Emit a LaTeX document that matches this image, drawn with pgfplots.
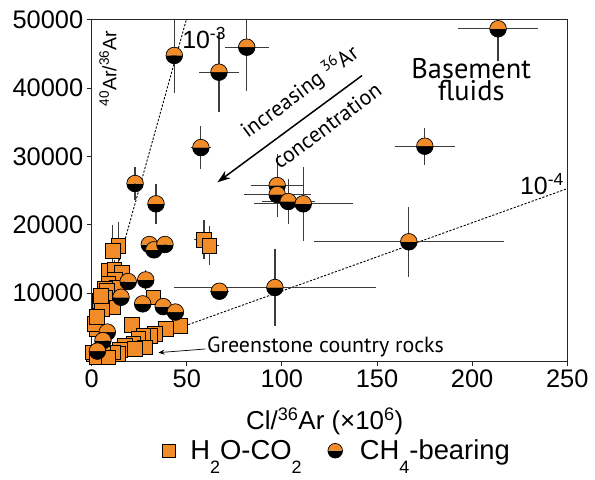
\documentclass[border=0pt]{standalone}
\usepackage{fontspec}
\setmainfont{Liberation Sans}
\newfontfamily\annot{PT Sans}
\usepackage{pgfplots}
\usepackage{pgfplotstable}
\pgfplotsset{compat=1.18}
\usetikzlibrary{arrows.meta}
\definecolor{myorange}{RGB}{242,140,40}
\definecolor{errgray}{RGB}{60,60,60}
\newcommand\lsub[1]{\raisebox{-0.5em}{\fontsize{18}{20}\selectfont #1}}

\pgfdeclareplotmark{halfcirc}{%
  \pgfpathmoveto{\pgfqpoint{-\pgfplotmarksize}{0pt}}%
  \pgfpatharc{180}{360}{\pgfplotmarksize}%
  \pgfpathclose
  \pgfsetfillcolor{black}%
  \pgfusepath{fill}%
  \pgfpathmoveto{\pgfqpoint{\pgfplotmarksize}{0pt}}%
  \pgfpatharc{0}{180}{\pgfplotmarksize}%
  \pgfpathclose
  \pgfsetfillcolor{myorange}%
  \pgfusepath{fill}%
  \pgfpathcircle{\pgfpointorigin}{\pgfplotmarksize}%
  \pgfusepath{stroke}%
}

\pgfplotstableread{
x y ex ey
14.0 16950 1 3400
11.0 16220 1 3800
8.7 13290 0.5 0
11.9 13390 0.5 1500
15.8 13040 0.5 1500
12.2 11970 0 0
8.7 11340 0 0
13.1 10840 0 0
7.0 10610 0 0
7.9 10360 0 0
4.4 8890 0 0
7.0 9380 0 0
11.0 7910 0 0
5.3 7680 0 0
2.6 4750 0 0
1.7 5480 0 0
2.8 6550 0 0
21.0 5330 0 0
32.4 9380 0 0
46.4 5230 0 0
39.0 4750 0 0
33.3 4010 0 0
30.6 3770 0 0
27.1 3770 0 0
24.5 3250 0 0
21.9 2550 0 0
28.0 2050 0 0
17.5 2300 0 0
22.8 1820 0 0
14.9 1670 0 0
14.0 1080 0 0
11.4 1320 0 0
6.1 1080 0 0
0.8 1080 0 0
0.3 1320 0 0
2.6 590 0 0
8.7 590 0 0
4.9 9620 0 0
59.0 17830 5 2800
61.8 16950 5 2800
}\sqdata

\pgfplotstableread{
x y ex ey
213.6 48700 21 4700
175.1 31500 15.8 2700
166.7 17500 50 5100
43.4 44790 1.5 5500
66.9 42340 10.5 5900
81.5 46000 11.6 6400
57.4 31300 5.3 3100
22.8 26030 0 2400
33.8 23060 0 2900
97.5 25740 14 4600
97.5 24420 17.7 3000
103.3 23400 14 3300
111.2 23060 26 5400
30.3 17100 1 600
32.7 16320 1 1000
38.5 17100 1 600
67.1 10260 5 0
96.3 10800 53 5600
28.4 11920 0 1500
19.2 11680 0 0
15.4 9380 0 0
26.8 8410 0 0
37.6 8010 0 0
44.0 7210 0 0
8.2 4280 0 0
5.9 3030 0 0
3.0 1490 0 0
}\chdata

\begin{document}
\begin{tikzpicture}
\begin{axis}[
  name=ax, at={(0,0)}, anchor=south west,
  scale only axis, width=475.6bp, height=341.4bp,
  xmin=0, xmax=250, ymin=0, ymax=50000,
  xtick={0,50,...,250}, ytick={10000,20000,...,50000},
  scaled ticks=false,
  /pgf/number format/1000 sep={},
  /pgf/number format/assume math mode=true,
  tick label style={font=\fontsize{25.5}{28}\selectfont},
  tick align=outside, xtick pos=bottom, ytick pos=left,
  major tick length=5bp,
  axis line style={black!85, line width=0.9bp},
  every tick/.style={black!85, line width=0.9bp},
  xlabel={Cl/\textsuperscript{36}Ar (×10\textsuperscript{6})},
  xlabel style={at={(axis description cs:0.49,-0.175)}, anchor=center, font=\fontsize{26}{28}\selectfont},
  legend style={draw=none, fill=none, at={(0.516,-0.262)}, anchor=center,
    font=\fontsize{27.5}{30}\selectfont, legend columns=2,
    /tikz/every even column/.append style={column sep=24bp}},
  legend cell align=left,
  error bars/error bar style={errgray, line width=1.2bp},
]
\addplot[forget plot, black, line width=0.9bp, dash pattern=on 2.2bp off 1.6bp] coordinates {(0,295) (49.7,50000)};
\addplot[forget plot, black, line width=0.9bp, dash pattern=on 2.2bp off 1.6bp] coordinates {(0,295) (250,25295)};

\addplot[only marks, mark=square*, mark size=7.3bp,
  mark options={fill=myorange, draw=black, line width=0.7bp},
  legend image post style={mark size=6.5bp},
  error bars/.cd, x dir=both, x explicit, y dir=both, y explicit, error mark=none]
  table[x=x, y=y, x error=ex, y error=ey] {\sqdata};
\addlegendentry{\hspace{13bp}H\lsub{2}O-CO\lsub{2}}

\addplot[only marks, mark=halfcirc, mark size=8.3bp,
  mark options={draw=black, line width=0.7bp},
  legend image post style={mark size=7.3bp},
  error bars/.cd, x dir=both, x explicit, y dir=both, y explicit, error mark=none]
  table[x=x, y=y, x error=ex, y error=ey] {\chdata};
\addlegendentry{\hspace{15bp}CH\lsub{4}-bearing}

\node[rotate=90, font=\fontsize{19.5}{22}\selectfont] at (axis cs:8.5,42880) {\textsuperscript{40}Ar/\textsuperscript{36}Ar};
\node[anchor=west, font=\fontsize{25}{28}\selectfont, inner sep=0pt] at (axis cs:47.5,47400) {10\textsuperscript{-3}};
\node[anchor=west, font=\fontsize{25}{28}\selectfont, inner sep=0pt] at (axis cs:225.1,26000) {10\textsuperscript{-4}};
\node[anchor=base, font=\annot\fontsize{28.5}{30}\selectfont, inner sep=0pt] at (axis cs:199.5,41400) {Basement};
\node[anchor=base, font=\annot\fontsize{28.5}{30}\selectfont, inner sep=0pt] at (axis cs:199.5,38200) {fluids};
\node[anchor=base west, font=\annot\fontsize{22}{24}\selectfont, inner sep=0pt] at (axis cs:60.6,1270) {Greenstone country rocks};
\draw[-{Stealth[length=13bp, width=9bp]}, line width=1.5bp] (axis cs:142.1,41850) -- (axis cs:66.1,26220);
\draw[-{Stealth[length=6bp, width=5bp]}, line width=0.7bp] (axis cs:59.7,1800) -- (axis cs:35.1,1270);
\node[rotate=36.5, anchor=base, font=\annot\fontsize{22}{24}\selectfont, inner sep=0pt] at (axis cs:111.6,38630) {increasing \textsuperscript{36}Ar};
\node[rotate=36.5, anchor=base, font=\annot\fontsize{22}{24}\selectfont, inner sep=0pt] at (axis cs:126.1,33620) {concentration};
\end{axis}
\pgfresetboundingbox
\path[use as bounding box] (-91.7bp,-118.7bp) rectangle (503.3bp,361.3bp);
\end{tikzpicture}
\end{document}
